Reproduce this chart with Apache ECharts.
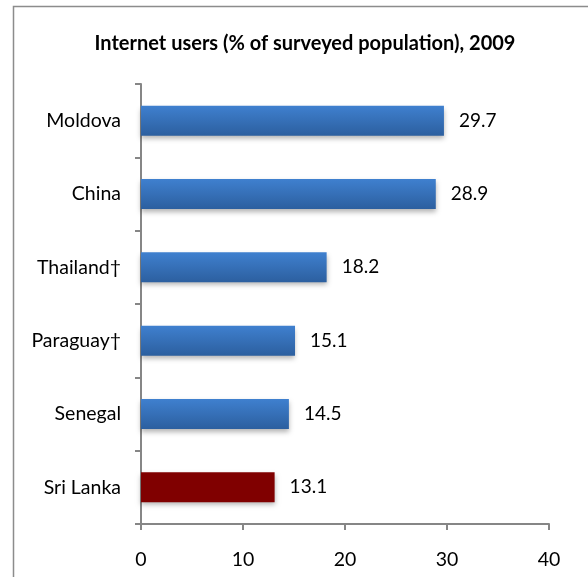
<!DOCTYPE html>
<html><head><meta charset="utf-8">
<script src="https://cdn.jsdelivr.net/npm/echarts@6/dist/echarts.min.js"></script>
<style>html,body{margin:0;padding:0;background:#fff}#c{width:588px;height:577px}</style>
</head><body><div id="c"></div>
<script>
const title = 'Internet users (% of surveyed population), 2009';
const categories = ['Moldova', 'China', 'Thailand\u2020', 'Paraguay\u2020', 'Senegal', 'Sri Lanka'];
const values = [29.7, 28.9, 18.2, 15.1, 14.5, 13.1];
const highlight = 'Sri Lanka';
const xTicks = [0, 10, 20, 30, 40];

const FONT = 'Lato, "Open Sans", sans-serif';
const blueGrad = new echarts.graphic.LinearGradient(0, 0, 0, 1, [
  {offset: 0, color: '#3f80cf'},
  {offset: 1, color: '#2c5f9f'}
]);
const chart = echarts.init(document.getElementById('c'));
chart.setOption({
  animation: false,
  backgroundColor: '#fff',
  graphic: [{
    type: 'rect', left: 11, top: 4, silent: true,
    shape: {width: 600, height: 600},
    style: {fill: 'none', stroke: '#8c8c8c', lineWidth: 1.5}
  }],
  title: {
    text: title, left: 300, top: 29, textAlign: 'center',
    textStyle: {fontFamily: FONT, fontWeight: 'bold', fontSize: 20, color: '#000'}
  },
  grid: {left: 141, right: 39, top: 84, bottom: 53, containLabel: false},
  xAxis: {
    type: 'value', min: xTicks[0], max: xTicks[xTicks.length - 1], interval: 10,
    splitLine: {show: false},
    axisLine: {show: true, lineStyle: {color: '#868686', width: 2}},
    axisTick: {show: true, length: 6, lineStyle: {color: '#868686', width: 2}},
    axisLabel: {margin: 26, fontFamily: FONT, fontSize: 19.5, color: '#000'}
  },
  yAxis: {
    type: 'category', data: categories, inverse: true,
    axisLine: {show: true, lineStyle: {color: '#868686', width: 2}},
    axisTick: {show: true, length: 6, lineStyle: {color: '#868686', width: 2}},
    axisLabel: {margin: 20, fontFamily: FONT, fontSize: 19.5, color: '#000'}
  },
  series: [{
    type: 'bar', barWidth: 30,
    data: values.map((v, i) => ({
      value: v,
      itemStyle: {color: categories[i] === highlight ? '#800000' : blueGrad}
    })),
    itemStyle: {shadowBlur: 5, shadowOffsetY: 3, shadowColor: 'rgba(0,0,0,0.3)'},
    label: {
      show: true, position: 'right', distance: 15,
      fontFamily: FONT, fontSize: 19, color: '#000',
      formatter: p => p.value.toFixed(1)
    }
  }]
});
</script></body></html>
